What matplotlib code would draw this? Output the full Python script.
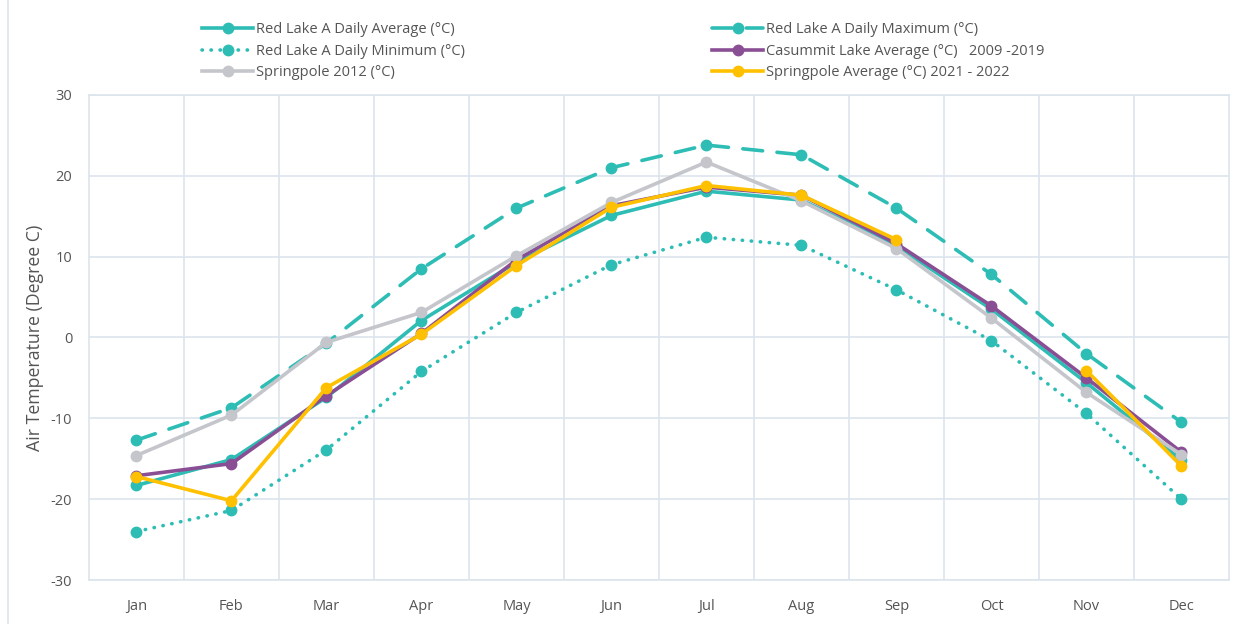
import matplotlib.pyplot as plt
import numpy as np
from matplotlib.lines import Line2D

plt.rcParams['font.family'] = ['Open Sans', 'DejaVu Sans']
plt.rcParams['axes.unicode_minus'] = False

months = ['Jan', 'Feb', 'Mar', 'Apr', 'May', 'Jun', 'Jul', 'Aug', 'Sep', 'Oct', 'Nov', 'Dec']

red_lake_avg = [-18.3, -15.1, -7.4, 2.1, 9.3, 15.1, 18.1, 17.0, 11.3, 3.5, -5.6, -15.2]
red_lake_max = [-12.7, -8.7, -0.7, 8.5, 16.0, 21.0, 23.8, 22.6, 16.0, 7.8, -2.0, -10.5]
red_lake_min = [-24.0, -21.4, -13.9, -4.2, 3.1, 9.0, 12.4, 11.4, 5.9, -0.4, -9.4, -20.0]
casummit_avg = [-17.1, -15.6, -7.2, 0.5, 9.6, 16.3, 18.6, 17.6, 11.6, 3.9, -5.0, -14.2]
springpole_2012 = [-14.6, -9.6, -0.6, 3.1, 10.1, 16.7, 21.7, 16.9, 11.0, 2.4, -6.8, -14.5]
springpole_avg = [-17.2, -20.2, -6.2, 0.4, 8.9, 16.1, 18.8, 17.6, 12.1, np.nan, -4.1, -15.9]

teal = '#2EBDB5'
purple = '#8A4E95'
grey = '#C4C6CC'
yellow = '#FFC000'
gridc = '#DCE4EC'
textc = '#555555'

fig = plt.figure(figsize=(12.51, 6.24), dpi=100)
ax = fig.add_axes([0.0711, 0.0705, 0.9113, 0.7773])

x = np.arange(len(months))
lw = 2.6
ms = 7.5

h_max, = ax.plot(x, red_lake_max, color=teal, lw=lw, ls=(0, (5.5, 4)), dash_capstyle='round',
                 marker='o', ms=ms, label='Red Lake A Daily Maximum (°C)', zorder=3)
h_min, = ax.plot(x, red_lake_min, color=teal, lw=lw, ls=(0, (0.1, 2.4)), dash_capstyle='round',
                 marker='o', ms=ms, label='Red Lake A Daily Minimum (°C)', zorder=3)
h_avg, = ax.plot(x, red_lake_avg, color=teal, lw=lw, marker='o', ms=ms,
                 label='Red Lake A Daily Average (°C)', zorder=4)
h_cas, = ax.plot(x, casummit_avg, color=purple, lw=lw, marker='o', ms=ms,
                 label='Casummit Lake Average (°C)   2009 -2019', zorder=5)
h_sp12, = ax.plot(x, springpole_2012, color=grey, lw=lw, marker='o', ms=ms,
                  label='Springpole 2012 (°C)', zorder=6)
h_spa, = ax.plot(x, springpole_avg, color=yellow, lw=lw, marker='o', ms=ms,
                 label='Springpole Average (°C) 2021 - 2022', zorder=7)

ax.set_xlim(-0.5, 11.5)
ax.set_ylim(-30, 30)
ax.set_yticks(range(-30, 31, 10))
ax.set_xticks(x)
ax.set_xticklabels(months)
ax.set_xticks(np.arange(0.5, 11, 1), minor=True)
ax.grid(axis='y', which='major', color=gridc, lw=1.2)
ax.grid(axis='x', which='minor', color=gridc, lw=1.2)
ax.tick_params(which='both', length=0, labelsize=10.5, colors=textc)
ax.tick_params(axis='x', pad=14)
ax.tick_params(axis='y', pad=12)
for s in ax.spines.values():
    s.set_color(gridc)
    s.set_linewidth(1.2)
ax.set_ylabel('Air Temperature (Degree C)', fontsize=12.8, color=textc, labelpad=5)

fig.legend(handles=[h_avg, h_min, h_sp12, h_max, h_cas, h_spa], ncol=2,
           loc='upper left', bbox_to_anchor=(0.151, 0.9856), frameon=False,
           fontsize=10.5, labelcolor=textc, handlelength=3.5, handletextpad=0.2,
           columnspacing=16.95, labelspacing=0.45, borderaxespad=0.5)

fig.add_artist(Line2D([0.0065, 0.0065], [0, 1], color=gridc, lw=1.2))

fig.savefig('out.png', dpi=100)
